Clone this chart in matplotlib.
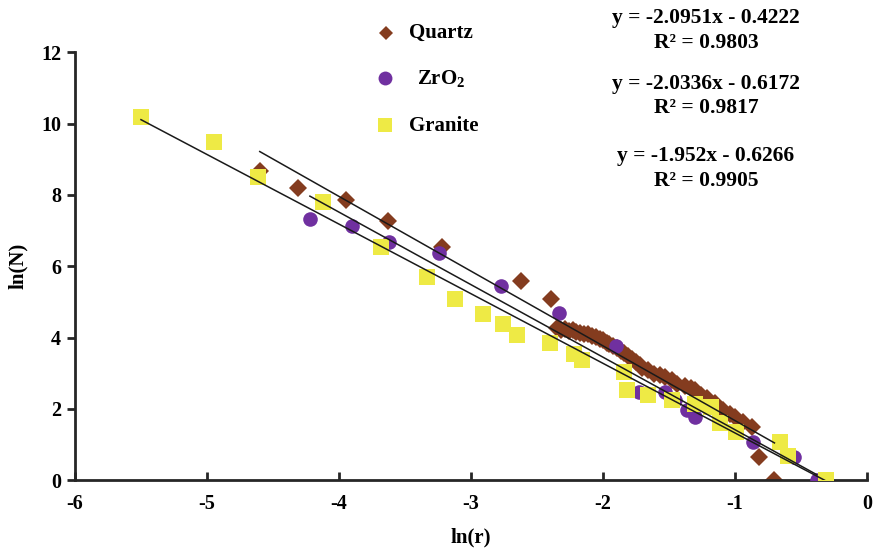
import numpy as np
import matplotlib.pyplot as plt
from matplotlib.lines import Line2D

plt.rcParams['font.family'] = ['Liberation Serif', 'DejaVu Serif']
plt.rcParams['font.weight'] = 'bold'
plt.rcParams['axes.unicode_minus'] = False
plt.rcParams['mathtext.fontset'] = 'custom'
plt.rcParams['mathtext.rm'] = 'Liberation Serif:bold'
plt.rcParams['mathtext.bf'] = 'Liberation Serif:bold'

# Quartz (ln r, ln N)
quartz_x = [-4.60, -4.31, -3.95, -3.63, -3.22, -2.62, -2.39,
            -2.35, -2.32, -2.29, -2.26, -2.23, -2.20, -2.17, -2.14, -2.11, -2.08,
            -2.05, -2.02, -2.00, -1.97, -1.95, -1.92, -1.89, -1.86, -1.84, -1.81,
            -1.78, -1.75, -1.72, -1.70, -1.66, -1.61, -1.57, -1.53, -1.48, -1.44,
            -1.38, -1.33, -1.30, -1.26, -1.21, -1.15, -1.09, -1.04, -1.00, -0.94,
            -0.87, -0.82, -0.70]
quartz_y = [8.66, 8.20, 7.87, 7.27, 6.54, 5.58, 5.07,
            4.26, 4.22, 4.23, 4.18, 4.21, 4.15, 4.14, 4.10, 4.09, 4.04,
            4.01, 3.95, 3.92, 3.86, 3.81, 3.75, 3.70, 3.62, 3.56, 3.48,
            3.40, 3.30, 3.22, 3.14, 3.08, 2.98, 2.95, 2.90, 2.80, 2.71,
            2.64, 2.58, 2.52, 2.40, 2.29, 2.15, 1.96, 1.86, 1.78, 1.62,
            1.49, 0.65, 0.00]

# ZrO2
zro2_x = [-4.22, -3.90, -3.62, -3.24, -2.77, -2.33, -1.90, -1.73, -1.53,
          -1.45, -1.36, -1.30, -0.86, -0.55, -0.38]
zro2_y = [7.32, 7.13, 6.68, 6.38, 5.45, 4.70, 3.77, 2.48, 2.47,
          2.24, 1.96, 1.76, 1.07, 0.65, 0.00]

# Granite
granite_x = [-5.50, -4.95, -4.61, -4.12, -3.68, -3.33, -3.12, -2.91, -2.76,
             -2.65, -2.40, -2.22, -2.16, -1.84, -1.82, -1.66, -1.48, -1.30,
             -1.18, -1.11, -0.99, -0.66, -0.60, -0.31]
granite_y = [10.18, 9.47, 8.49, 7.79, 6.55, 5.69, 5.09, 4.65, 4.39,
             4.08, 3.86, 3.55, 3.38, 3.04, 2.52, 2.38, 2.26, 2.13,
             2.04, 1.59, 1.35, 1.07, 0.67, 0.00]

# trendline coefficients (slope, intercept, R2)
fits = {
    'quartz': (-2.0951, -0.4222, 0.9803),
    'zro2': (-2.0336, -0.6172, 0.9817),
    'granite': (-1.952, -0.6266, 0.9905),
}

c_quartz = '#843C1F'
c_zro2 = '#7030A0'
c_granite = '#EEEA45'

fig = plt.figure(figsize=(8.74, 5.5), dpi=100)
ax = fig.add_axes([0.0858, 0.127, 0.906, 0.778])

ax.plot(quartz_x, quartz_y, 'D', color=c_quartz, markersize=9.5, markeredgewidth=0, zorder=2)
ax.plot(zro2_x, zro2_y, 'o', color=c_zro2, markersize=10.5, markeredgewidth=0, zorder=3)
ax.plot(granite_x, granite_y, 's', color=c_granite, markersize=12, markeredgewidth=0, zorder=4)

# trendlines over each series' range
for xs, key in [(quartz_x, 'quartz'), (zro2_x, 'zro2'), (granite_x, 'granite')]:
    m, b, r2 = fits[key]
    xx = np.array([min(xs), max(xs)])
    ax.plot(xx, m * xx + b, color='#1a1a1a', lw=1.1, zorder=5)

ax.set_xlim(-6, 0)
ax.set_ylim(0, 12)
ax.set_xticks(np.arange(-6, 1, 1))
ax.set_yticks(np.arange(0, 13, 2))
for s in ['top', 'right']:
    ax.spines[s].set_visible(False)
for s in ['left', 'bottom']:
    ax.spines[s].set_linewidth(2)
    ax.spines[s].set_color('#262626')
ax.tick_params(axis='x', direction='in', length=6, width=2, color='#262626',
               labelsize=14.5, pad=10)
ax.tick_params(axis='y', direction='out', length=6, width=2, color='#262626',
               labelsize=14.5, pad=4)
for lab in ax.get_xticklabels() + ax.get_yticklabels():
    lab.set_fontweight('bold')

ax.set_xlabel('ln(r)', fontsize=15, fontweight='bold', labelpad=10)
ax.set_ylabel('ln(N)', fontsize=15, fontweight='bold', labelpad=9)

# legend drawn by hand
def legend_mark(px, py, marker, color, size):
    fig.add_artist(Line2D([px / 874], [1 - py / 550], marker=marker, color=color,
                          markersize=size, markeredgewidth=0, linestyle='none',
                          transform=fig.transFigure))

legend_mark(386, 33, 'D', c_quartz, 7)
fig.text(409 / 874, 1 - 33 / 550, 'Quartz', fontsize=15, fontweight='bold', va='center')
legend_mark(385, 78, 'o', c_zro2, 10)
fig.text(417 / 874, 1 - 79 / 550, 'ZrO$_2$', fontsize=15, fontweight='bold', va='center')
legend_mark(385, 125, 's', c_granite, 10)
fig.text(409 / 874, 1 - 126 / 550, 'Granite', fontsize=15, fontweight='bold', va='center')

# equations
eq_y = [(18, 43), (84, 108), (156, 181)]
for key, (y1, y2) in zip(['quartz', 'zro2', 'granite'], eq_y):
    m, b, r2 = fits[key]
    fig.text(706 / 874, 1 - y1 / 550, f'y = {m}x - {abs(b)}', fontsize=15.5,
             fontweight='bold', ha='center', va='center')
    fig.text(706 / 874, 1 - y2 / 550, f'R² = {r2}', fontsize=15.5,
             fontweight='bold', ha='center', va='center')

fig.savefig('out.png', dpi=100)
